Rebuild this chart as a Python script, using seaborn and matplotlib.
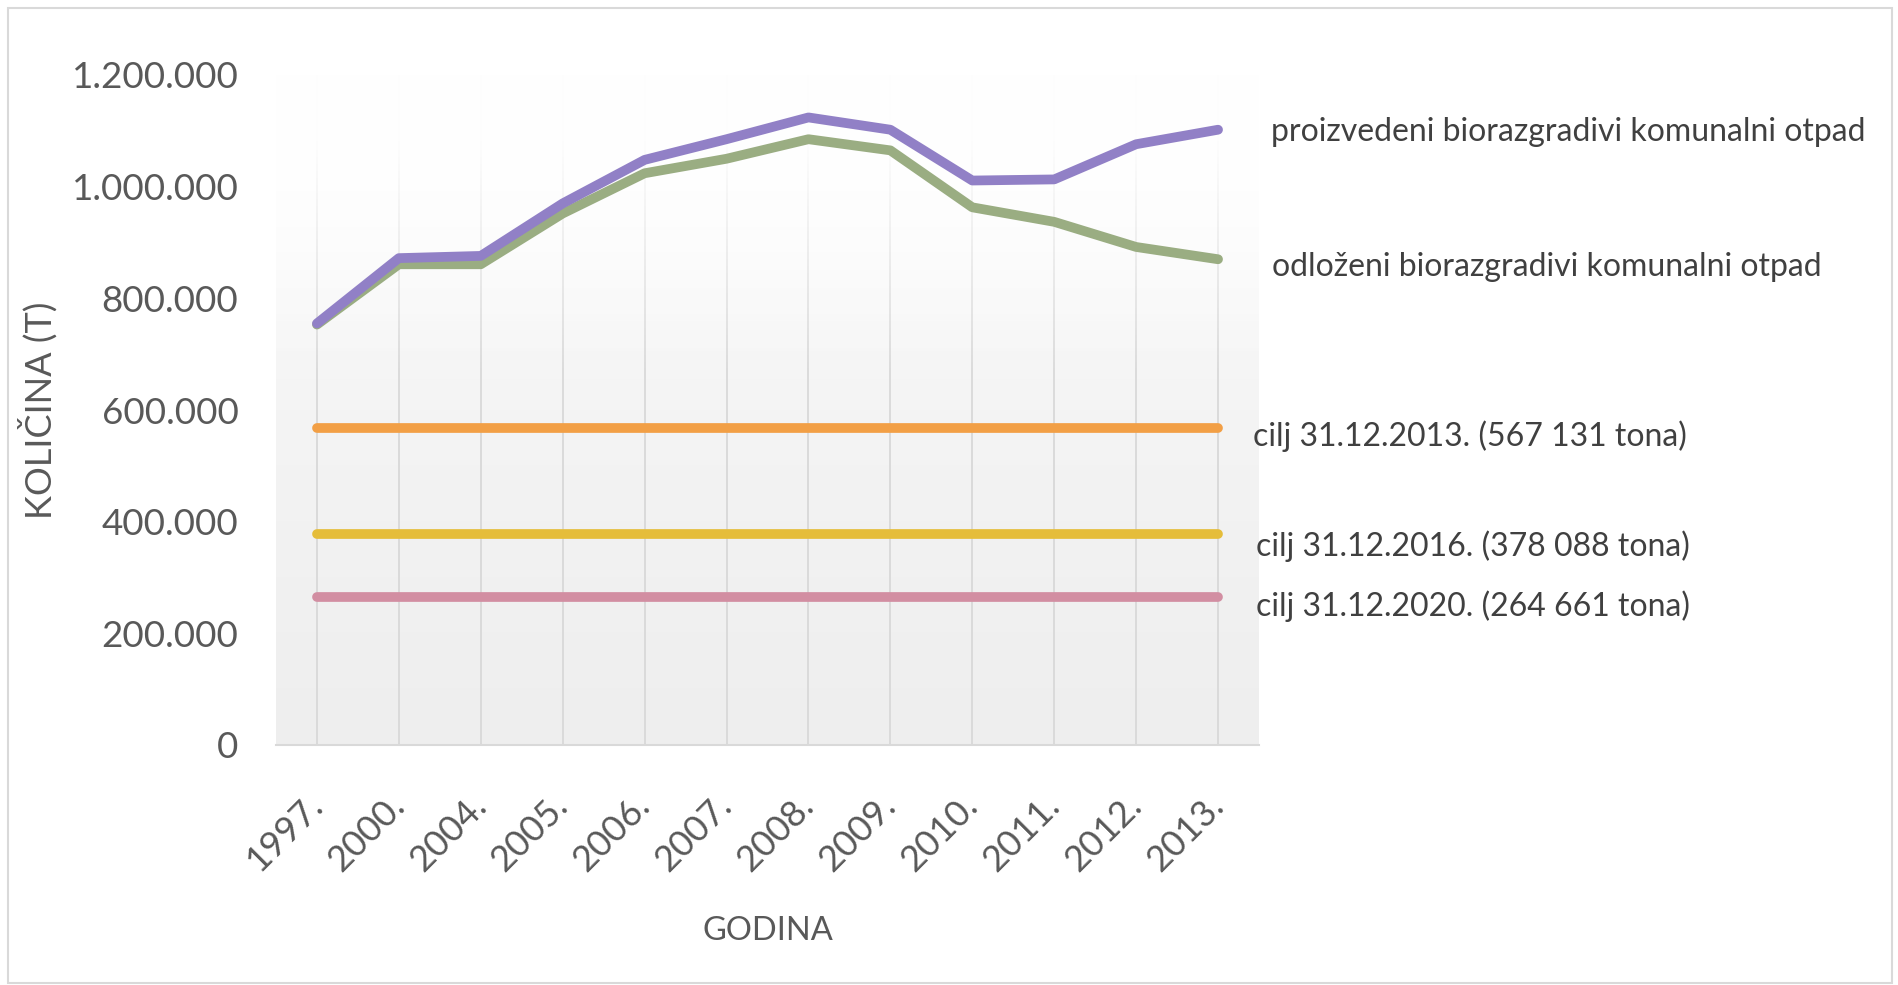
import numpy as np
import pandas as pd
import matplotlib
matplotlib.use("Agg")
import matplotlib.pyplot as plt
import seaborn as sns
from matplotlib.colors import LinearSegmentedColormap
from matplotlib.patches import Rectangle
from matplotlib.ticker import FuncFormatter

# ---------------- data ----------------
years = ["1997.", "2000.", "2004.", "2005.", "2006.", "2007.",
         "2008.", "2009.", "2010.", "2011.", "2012.", "2013."]
produced = [755000, 872000, 876000, 970000, 1048000, 1085000,
            1124000, 1102000, 1011000, 1013000, 1076000, 1102000]
landfilled = [753000, 861000, 861000, 952000, 1024000, 1050000,
              1085000, 1065000, 963000, 937000, 892000, 870000]
series_labels = ["proizvedeni biorazgradivi komunalni otpad",
                 "odloženi biorazgradivi komunalni otpad"]
targets = [567131, 378088, 264661]
target_labels = ["cilj 31.12.2013. (567 131 tona)",
                 "cilj 31.12.2016. (378 088 tona)",
                 "cilj 31.12.2020. (264 661 tona)"]
y_ticks = [0, 200000, 400000, 600000, 800000, 1000000, 1200000]

# ---------------- style ----------------
series_colors = ["#9180c6", "#9aad82"]
target_colors = ["#f29f45", "#e5bd3a", "#d28ea2"]
# label offsets (pixels) relative to the last point of each line
series_offsets = [(53, -2), (54, -8)]
target_offsets = [(35, -8), (38, -12), (38, -9)]

sns.set_theme(style="white")
plt.rcParams["font.family"] = ["Lato", "DejaVu Sans"]

W, H = 1899, 985
fig = plt.figure(figsize=(W / 100, H / 100), dpi=100)
ax = fig.add_axes([276 / W, 240 / H, 983 / W, 670 / H])

n = len(years)
xpos = np.arange(n)
ext = (-0.5, n - 0.5, 0, y_ticks[-1])

# gradient plot-area background
grad = np.linspace(0, 1, 256).reshape(-1, 1)
cmap = LinearSegmentedColormap.from_list("bg", ["#eeeeee", "#f4f4f4", "#ffffff"])
ax.imshow(grad, extent=ext, origin="lower", aspect="auto", cmap=cmap,
          zorder=0, interpolation="bicubic")

# white fade over the upper part of the gridlines
fade = np.zeros((256, 1, 4))
fade[..., :3] = 1.0
a = np.clip((np.linspace(0, 1, 256) - 0.55) / 0.35, 0, 1) * 0.95
fade[:, 0, 3] = a
ax.imshow(fade, extent=ext, origin="lower", aspect="auto", zorder=2,
          interpolation="bicubic")

# target lines
for t, c in zip(targets, target_colors):
    sns.lineplot(x=xpos, y=[t] * n, color=c, linewidth=7, ax=ax,
                 solid_capstyle="round", zorder=3)

# series lines (green below purple)
df = pd.DataFrame({
    "x": np.concatenate([xpos, xpos]),
    "value": produced + landfilled,
    "series": [series_labels[0]] * n + [series_labels[1]] * n,
})
for lab, c in zip(series_labels[::-1], series_colors[::-1]):
    sub = df[df["series"] == lab]
    sns.lineplot(data=sub, x="x", y="value", color=c, linewidth=7, ax=ax,
                 solid_capstyle="round", solid_joinstyle="round", zorder=4)

# axes styling
ax.set_xlim(-0.5, n - 0.5)
ax.set_ylim(0, y_ticks[-1])
ax.set_xticks(xpos)
ax.set_xticklabels(years, rotation=45, ha="right", va="center",
                   rotation_mode="anchor")
ax.set_yticks(y_ticks)
ax.yaxis.set_major_formatter(FuncFormatter(lambda v, p: f"{int(v):,}".replace(",", ".")))
ax.tick_params(axis="y", length=0, pad=27, labelsize=26.5, labelcolor="#595959")
ax.tick_params(axis="x", length=0, pad=40, labelsize=26, labelcolor="#595959")
ax.grid(axis="x", color="#d6d6d6", linewidth=1.2, zorder=1)
ax.grid(axis="y", visible=False)
ax.set_axisbelow(True)
for s in ["top", "right", "left"]:
    ax.spines[s].set_visible(False)
ax.spines["bottom"].set_color("#d9d9d9")
ax.spines["bottom"].set_linewidth(1.5)

ax.set_xlabel("GODINA", fontsize=23.5, color="#595959")
ax.set_ylabel("KOLIČINA (T)", fontsize=26, color="#595959")
ax.xaxis.set_label_coords(0.5, -0.255)
ax.yaxis.set_label_coords(-0.222, 0.5)

# right-hand labels
for lab, vals, off in zip(series_labels, [produced, landfilled], series_offsets):
    ax.annotate(lab, xy=(n - 1, vals[-1]), xytext=off, textcoords="offset pixels",
                ha="left", va="center", fontsize=23, color="#404040",
                annotation_clip=False)
for lab, t, off in zip(target_labels, targets, target_offsets):
    ax.annotate(lab, xy=(n - 1, t), xytext=off, textcoords="offset pixels",
                ha="left", va="center", fontsize=23, color="#404040",
                annotation_clip=False)

# outer frame
fig.add_artist(Rectangle((8 / W, 2 / H), (1892 - 8) / W, (977 - 2) / H,
                         transform=fig.transFigure, fill=False,
                         edgecolor="#d9d9d9", linewidth=1.5))

fig.savefig("out.png", dpi=100)
